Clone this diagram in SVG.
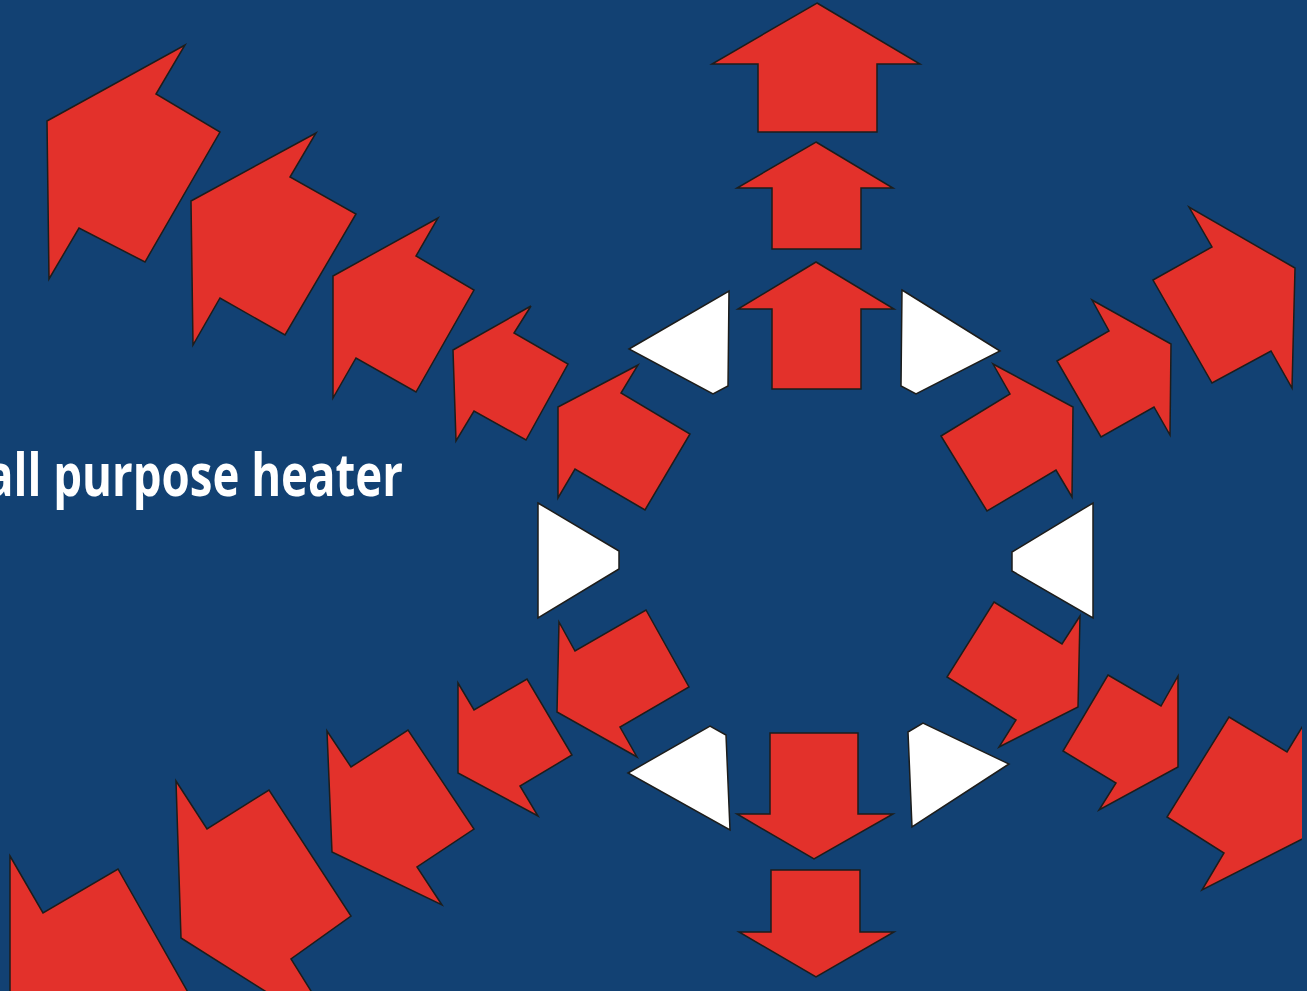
<svg xmlns="http://www.w3.org/2000/svg" width="1307" height="991" viewBox="0 0 1307 991">
<defs>
<style>
.r{fill:#E3312B;stroke:#1d1d1b;stroke-width:1.5;stroke-linejoin:miter}
.w{fill:#FFFFFF;stroke:#1d1d1b;stroke-width:1.5;stroke-linejoin:miter}
.t{font-family:"Open Sans","Liberation Sans",sans-serif;font-weight:700;font-size:59px;fill:#FFFFFF}
</style>
<clipPath id="edge"><rect x="0" y="0" width="1302" height="991"/></clipPath>
</defs>
<rect x="0" y="0" width="1307" height="991" fill="#124173"/>
<text class="t" x="-14" y="496" textLength="417" lengthAdjust="spacingAndGlyphs">all purpose heater</text>
<g id="up">
<polygon class="r" points="817,3 920,64 877,64 877,132 758,132 758,64 712,64"/>
<polygon class="r" points="816,142 893,188 861,188 861,249 772,249 772,188 737,188"/>
<polygon class="r" points="816,262 894,309 861,309 861,389 772,389 772,309 738,309"/>
</g>
<g id="down">
<polygon class="r" points="770,733 858,733 858,814 893,814 814,859 737,814 770,814"/>
<polygon class="r" points="771,870 860,870 860,932 894,932 816,977 739,932 771,932"/>
</g>
<g id="upper-left">
<polygon class="r" points="47,121 185,45 156,94 220,132 145,262 79,228 49,279"/>
<polygon class="r" points="191,201 316,133 290,177 356,214 285,335 220,298 193,345"/>
<polygon class="r" points="333,276 438,218 416,256 474,290 416,392 356,358 333,398"/>
<polygon class="r" points="453,350 531,306 514,333 568,364 526,440 474,411 456,441"/>
<polygon class="r" points="558,407 638,365 621,393 690,434 645,510 575,469 558,498"/>
</g>
<g id="upper-right">
<polygon class="r" points="941,436 1010,394 993,364 1073,407 1072,497 1056,470 987,511"/>
<polygon class="r" points="1057,361 1109,331 1092,300 1171,344 1170,435 1154,407 1101,437"/>
<polygon class="r" points="1153,280 1212,247 1189,207 1295,268 1292,388 1271,351 1212,383"/>
</g>
<g id="lower-right">
<polygon class="r" points="994,602 1062,644 1080,616 1078,707 999,747 1016,720 947,677"/>
<polygon class="r" points="1108,675 1161,706 1178,676 1178,767 1099,810 1116,783 1063,751"/>
<g clip-path="url(#edge)">
<polygon class="r" points="1229,717 1287,752 1310,714 1310,835 1202,890 1224,853 1167,817"/>
</g>
</g>
<g id="lower-left">
<polygon class="r" points="559,622 575,651 646,610 689,687 620,727 637,757 557,712"/>
<polygon class="r" points="458,683 474,710 527,679 572,755 520,786 538,816 458,773"/>
<polygon class="r" points="327,731 351,767 408,730 474,829 417,867 442,905 332,852"/>
<polygon class="r" points="176,781 207,829 269,790 351,916 291,959 341,1039 181,938"/>
<polygon class="r" points="10,856 43,913 118,869 198,1010 10,1010"/>
</g>
<g id="white">
<polygon class="w" points="629,349 729,291 728,386 713,394"/>
<polygon class="w" points="902,290 1000,351 916,394 901,386"/>
<polygon class="w" points="538,503 619,551 619,569 538,618"/>
<polygon class="w" points="1093,503 1093,618 1012,571 1012,552"/>
<polygon class="w" points="628,773 710,726 726,735 730,830"/>
<polygon class="w" points="908,732 923,723 1009,764 912,827"/>
</g>
</svg>
